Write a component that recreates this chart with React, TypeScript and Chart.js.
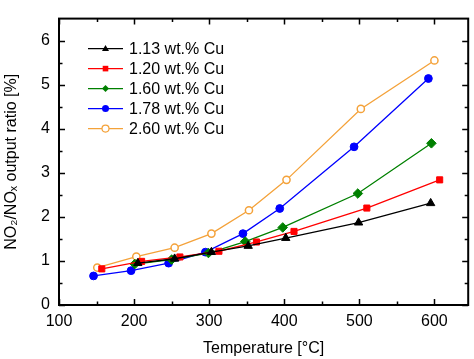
import React, { useEffect, useRef } from "react";
import { Chart, registerables } from "chart.js";

Chart.register(...registerables);

const seriesLabels = ["1.13 wt.% Cu", "1.20 wt.% Cu", "1.60 wt.% Cu", "1.78 wt.% Cu", "2.60 wt.% Cu"];
const seriesColors = ["#000000", "#ff0000", "#008000", "#0000ff", "#f4a23a"];
const seriesShapes = ["triangle", "rect", "rectRot", "circle", "circle"];

const temps113 = [205, 254, 303, 352, 402, 499, 595];
const ratio113 = [0.95, 1.05, 1.2, 1.34, 1.52, 1.87, 2.31];
const temps120 = [157, 210, 261, 313, 363, 413, 510, 607];
const ratio120 = [0.82, 0.99, 1.09, 1.22, 1.43, 1.67, 2.2, 2.84];
const temps160 = [201, 250, 299, 348, 398, 498, 596];
const ratio160 = [0.93, 1.03, 1.18, 1.44, 1.76, 2.53, 3.67];
const temps178 = [146, 196, 246, 295, 345, 394, 493, 592];
const ratio178 = [0.66, 0.78, 0.95, 1.2, 1.62, 2.19, 3.59, 5.14];
const temps260 = [151, 203, 254, 303, 353, 403, 502, 600];
const ratio260 = [0.85, 1.1, 1.3, 1.62, 2.15, 2.84, 4.45, 5.55];

const xTicks = [100, 200, 300, 400, 500, 600];
const yTicks = [0, 1, 2, 3, 4, 5, 6];
const xMinorTicks = [150, 250, 350, 450, 550];
const yMinorTicks = [0.5, 1.5, 2.5, 3.5, 4.5, 5.5];

const FONT = "'Liberation Sans', Arial, sans-serif";

function drawShape(ctx: CanvasRenderingContext2D, shape: string, x: number, y: number, r: number) {
  ctx.beginPath();
  if (shape === "triangle") {
    const h = r * 1.7;
    ctx.moveTo(x, y - h * 0.6);
    ctx.lineTo(x + r, y + h * 0.4);
    ctx.lineTo(x - r, y + h * 0.4);
    ctx.closePath();
  } else if (shape === "rect") {
    ctx.rect(x - r * 0.8, y - r * 0.8, r * 1.6, r * 1.6);
  } else if (shape === "rectRot") {
    ctx.moveTo(x, y - r);
    ctx.lineTo(x + r, y);
    ctx.lineTo(x, y + r);
    ctx.lineTo(x - r, y);
    ctx.closePath();
  } else {
    ctx.arc(x, y, r, 0, Math.PI * 2);
  }
}

const framePlugin = {
  id: "frameTicks",
  afterDatasetsDraw(chart: any) {
    const { ctx, chartArea, scales } = chart;
    const { left, right, top, bottom } = chartArea;
    ctx.save();
    ctx.strokeStyle = "#000";
    ctx.lineWidth = 1.5;
    const major = 6;
    const minor = 3.5;
    xTicks.concat(xMinorTicks).forEach((v) => {
      const px = Math.round(scales.x.getPixelForValue(v)) + 0.5;
      const len = xTicks.includes(v) ? major : minor;
      ctx.beginPath();
      ctx.moveTo(px, bottom);
      ctx.lineTo(px, bottom - len);
      ctx.moveTo(px, top);
      ctx.lineTo(px, top + len);
      ctx.stroke();
    });
    yTicks.concat(yMinorTicks).forEach((v) => {
      const py = Math.round(scales.y.getPixelForValue(v)) + 0.5;
      const len = yTicks.includes(v) ? major : minor;
      ctx.beginPath();
      ctx.moveTo(left, py);
      ctx.lineTo(left + len, py);
      ctx.moveTo(right, py);
      ctx.lineTo(right - len, py);
      ctx.stroke();
    });
    ctx.lineWidth = 2;
    ctx.strokeRect(left, top, right - left, bottom - top);

    // legend
    const lx0 = left + 29;
    const lx1 = left + 64;
    const tx = left + 70;
    ctx.font = "16px " + FONT;
    ctx.textBaseline = "middle";
    ctx.textAlign = "left";
    seriesLabels.forEach((lab, i) => {
      const y = top + 30 + i * 20;
      const c = seriesColors[i];
      ctx.strokeStyle = c;
      ctx.lineWidth = 1.3;
      ctx.beginPath();
      ctx.moveTo(lx0, y);
      ctx.lineTo(lx1, y);
      ctx.stroke();
      const cx = (lx0 + lx1) / 2;
      drawShape(ctx, seriesShapes[i], cx, y, 3.5);
      if (i === 4) {
        ctx.fillStyle = "#fff";
        ctx.fill();
        ctx.lineWidth = 1.2;
        ctx.stroke();
      } else {
        ctx.fillStyle = c;
        ctx.fill();
      }
      ctx.fillStyle = "#000";
      ctx.fillText(lab, tx, y + 1);
    });
    ctx.restore();
  },
};

const pointSizes = [4.8, 4.3, 4.8, 3.9, 3.6];

function mk(xs: number[], ys: number[], i: number) {
  const open = i === 4;
  return {
    label: seriesLabels[i],
    data: xs.map((x, k) => ({ x, y: ys[k] })),
    showLine: true,
    borderColor: seriesColors[i],
    borderWidth: 1.3,
    backgroundColor: open ? "#ffffff" : seriesColors[i],
    pointBackgroundColor: open ? "#ffffff" : seriesColors[i],
    pointBorderColor: seriesColors[i],
    pointBorderWidth: open ? 1.5 : 1,
    pointStyle: seriesShapes[i],
    pointRadius: pointSizes[i],
    pointHoverRadius: pointSizes[i],
  };
}

export default function App() {
  const ref = useRef<HTMLCanvasElement>(null);
  useEffect(() => {
    document.body.style.margin = "0";
    const chart = new Chart(ref.current as HTMLCanvasElement, {
      type: "scatter",
      data: {
        datasets: [
          mk(temps113, ratio113, 0),
          mk(temps120, ratio120, 1),
          mk(temps160, ratio160, 2),
          mk(temps178, ratio178, 3),
          mk(temps260, ratio260, 4),
        ],
      },
      options: {
        animation: false,
        responsive: false,
        maintainAspectRatio: false,
        layout: { padding: { top: 2, right: 4, left: 0, bottom: 0 } },
        plugins: { legend: { display: false }, tooltip: { enabled: false } },
        scales: {
          x: {
            type: "linear",
            min: 100,
            max: 645,
            grid: { display: false, drawTicks: false },
            border: { display: false },
            afterBuildTicks: (s: any) => {
              s.ticks = xTicks.map((v) => ({ value: v }));
            },
            afterFit: (s: any) => {
              s.height = 54;
            },
            ticks: { color: "#000", font: { family: FONT, size: 16 }, padding: 7, maxRotation: 0 },
            title: {
              display: true,
              text: "Temperature [°C]",
              color: "#000",
              font: { family: FONT, size: 16 },
              padding: { top: 0, bottom: 1 },
            },
          },
          y: {
            type: "linear",
            min: 0,
            max: 6.5,
            grid: { display: false, drawTicks: false },
            border: { display: false },
            afterBuildTicks: (s: any) => {
              s.ticks = yTicks.map((v) => ({ value: v }));
            },
            afterFit: (s: any) => {
              s.width = 59;
            },
            ticks: { color: "#000", font: { family: FONT, size: 16 }, padding: 9 },
            title: {
              display: true,
              text: "NO₂/NOₓ output ratio [%]",
              color: "#000",
              font: { family: FONT, size: 16 },
              padding: { top: 2, bottom: 0 },
            },
          },
        },
      },
      plugins: [framePlugin],
    } as any);
    return () => chart.destroy();
  }, []);
  return (
    <div style={{ position: "absolute", left: 0, top: 0, width: 474, height: 359, background: "#fff" }}>
      <canvas ref={ref} width={474} height={359} style={{ width: 474, height: 359 }} />
    </div>
  );
}
